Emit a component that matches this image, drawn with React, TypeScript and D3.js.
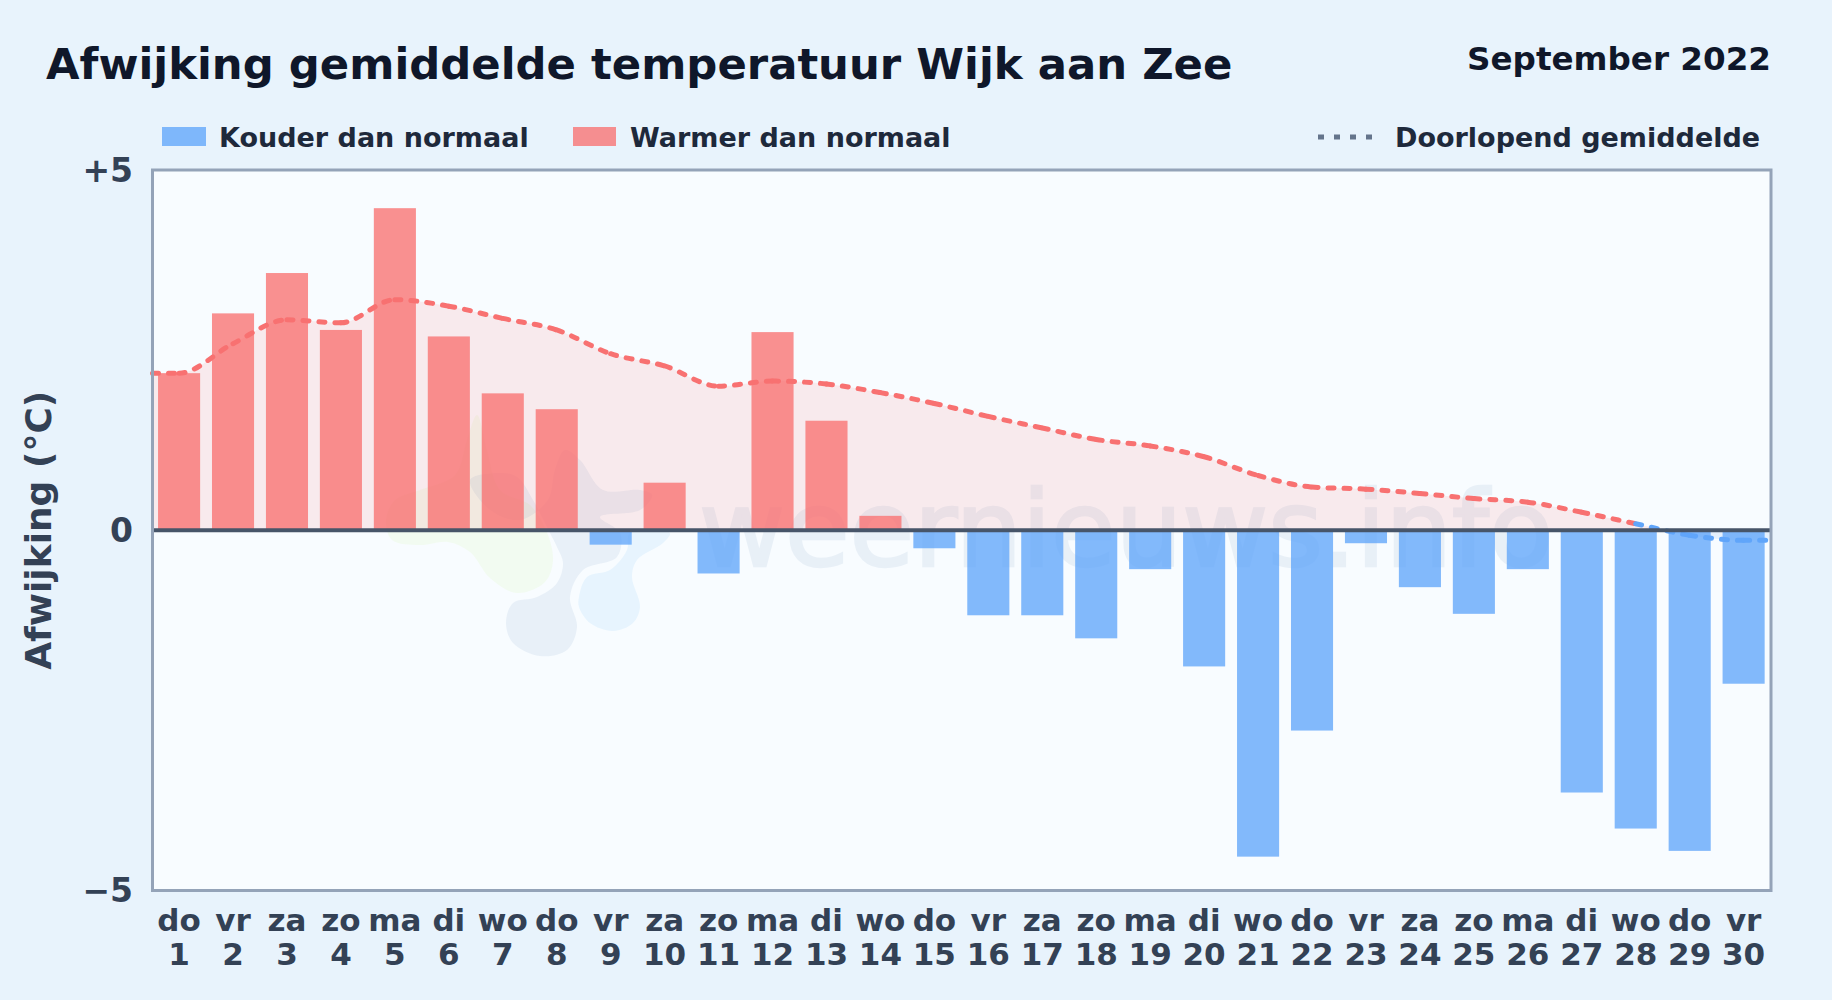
import React from "react";
import * as d3 from "d3";

const dayNames = ["do","vr","za","zo","ma","di","wo","do","vr","za","zo","ma","di","wo","do","vr","za","zo","ma","di","wo","do","vr","za","zo","ma","di","wo","do","vr"];
const dayNumbers = d3.range(1, 31);
const deviations = [2.18,3.01,3.57,2.78,4.47,2.69,1.9,1.68,-0.2,0.66,-0.6,2.75,1.52,0.2,-0.25,-1.18,-1.18,-1.5,-0.54,-1.89,-4.53,-2.78,-0.18,-0.79,-1.16,-0.54,-3.64,-4.14,-4.45,-2.13];
const runningMean = [2.18,2.59,2.92,2.88,3.2,3.11,2.94,2.78,2.45,2.28,2.0,2.07,2.03,1.91,1.76,1.58,1.42,1.26,1.17,1.02,0.76,0.6,0.57,0.51,0.44,0.39,0.25,0.09,-0.07,-0.14];
const yTicks = [{ v: 5, label: "+5" }, { v: 0, label: "0" }, { v: -5, label: "−5" }];

const W = 1832, H = 1000;
const M = { left: 152.5, right: 1771, top: 170, bottom: 890.5 };
const FONT = "'DejaVu Sans', sans-serif";
const RED = "#f87171", BLUE = "#60a5fa";

// Splits a curve into one path per segment, so the dash pattern restarts at every day.
function segmentsOf(pts: [number, number][]) {
  const segs: string[] = [];
  let cx = 0, cy = 0;
  const f = (n: number) => n.toFixed(2);
  const ctx: any = {
    beginPath() {},
    closePath() {},
    moveTo(a: number, b: number) { cx = a; cy = b; },
    lineTo(a: number, b: number) { segs.push(`M${f(cx)},${f(cy)}L${f(a)},${f(b)}`); cx = a; cy = b; },
    bezierCurveTo(a: number, b: number, c: number, d: number, e: number, g: number) {
      segs.push(`M${f(cx)},${f(cy)}C${f(a)},${f(b)} ${f(c)},${f(d)} ${f(e)},${f(g)}`);
      cx = e; cy = g;
    },
  };
  d3.line().curve(d3.curveMonotoneX).context(ctx)(pts);
  return segs;
}

function Watermark() {
  const blob = d3.line().curve(d3.curveCatmullRomClosed.alpha(0.5));
  const green: [number, number][] = [[386,520],[392,540],[420,545],[448,542],[470,552],[490,578],[517,593],[545,582],[553,560],[546,530],[530,505],[500,490],[487,450],[477,415],[467,440],[455,475],[420,490],[395,500]];
  const grey: [number, number][] = [[470,480],[497,473],[517,477],[533,500],[550,533],[557,547],[563,563],[557,583],[537,597],[513,603],[506,623],[513,643],[540,656],[567,650],[577,627],[570,597],[583,570],[617,557],[620,533],[600,517],[640,510],[652,495],[640,490],[603,490],[580,460],[565,450],[555,470],[548,500],[520,520],[490,510]];
  const sky: [number, number][] = [[579,597],[587,577],[610,570],[627,550],[630,533],[670,533],[663,543],[637,560],[632,577],[640,607],[633,623],[613,631],[590,623],[579,607]];
  return (
    <g>
      <path d={blob(green) as string} fill="#bef264" opacity={0.09} />
      <path d={blob(grey) as string} fill="#7a9cc6" opacity={0.12} />
      <path d={blob(sky) as string} fill="#7cc8f8" opacity={0.14} />
      <text x={699} y={566} fontSize={105} fontWeight={400} fill="#7a9cc6" stroke="#7a9cc6" strokeWidth={2.5} opacity={0.12}>weernieuws.info</text>
    </g>
  );
}

export default function App() {
  const x = d3.scaleBand<number>().domain(dayNumbers).range([M.left - 0.4, M.right - 0.4]).paddingInner(0.22).paddingOuter(0.11);
  const y = d3.scaleLinear().domain([-5, 5]).range([M.bottom, M.top]);
  const cx = (d: number) => (x(d) as number) + x.bandwidth() / 2;
  const pts: [number, number][] = [
    [M.left, y(runningMean[0])],
    ...runningMean.map((v, i) => [cx(dayNumbers[i]), y(v)] as [number, number]),
    [M.right, y(runningMean[runningMean.length - 1])],
  ];
  const area = d3.area().curve(d3.curveMonotoneX).y0(y(0))(pts) as string;
  const segs = segmentsOf(pts);
  const segValues = [...runningMean, runningMean[runningMean.length - 1]];
  const z = y(0);
  return (
    <svg width={W} height={H} viewBox={`0 0 ${W} ${H}`} style={{ position: "absolute", left: 0, top: 0, display: "block" }} fontFamily={FONT}>
      <defs>
        <clipPath id="above"><rect x={M.left} y={M.top} width={M.right - M.left} height={z - M.top} /></clipPath>
        <clipPath id="below"><rect x={M.left} y={z} width={M.right - M.left} height={M.bottom - z} /></clipPath>
      </defs>
      <rect width={W} height={H} fill="#e8f3fc" />
      <rect x={M.left} y={M.top} width={M.right - M.left} height={M.bottom - M.top} fill="#f8fcff" />

      <Watermark />

      <g clipPath="url(#above)"><path d={area} fill={RED} fillOpacity={0.13} /></g>
      <g clipPath="url(#below)"><path d={area} fill={BLUE} fillOpacity={0.13} /></g>

      {deviations.map((v, i) => (
        <rect key={i} x={x(dayNumbers[i])} width={x.bandwidth()} y={y(Math.max(v, 0))} height={Math.abs(y(v) - z)} fill={v >= 0 ? RED : BLUE} fillOpacity={0.78} />
      ))}

      {segs.map((d, i) => (
        <path key={i} d={d} fill="none" stroke={segValues[i] < 0 ? BLUE : RED} strokeWidth={5} strokeDasharray="6 10" strokeLinecap="round" />
      ))}

      <line x1={M.left} x2={M.right} y1={z} y2={z} stroke="#475569" strokeWidth={4} />
      <rect x={M.left} y={M.top} width={M.right - M.left} height={M.bottom - M.top} fill="none" stroke="#94a3b8" strokeWidth={3} />

      {yTicks.map((t) => (
        <text key={t.v} x={133} y={y(t.v)} dy="0.36em" textAnchor="end" fontSize={33} fontWeight={700} fill="#334155">{t.label}</text>
      ))}
      {dayNumbers.map((d, i) => (
        <g key={d} textAnchor="middle" fontSize={31} fontWeight={700} fill="#334155">
          <text x={cx(d)} y={931}>{dayNames[i]}</text>
          <text x={cx(d)} y={965}>{d}</text>
        </g>
      ))}

      <text transform={`translate(51,${(M.top + M.bottom) / 2}) rotate(-90)`} textAnchor="middle" fontSize={36} fontWeight={700} fill="#334155">Afwijking (°C)</text>

      <text x={46} y={79} fontSize={43.35} fontWeight={700} fill="#0f172a">Afwijking gemiddelde temperatuur Wijk aan Zee</text>
      <text x={1771} y={70} textAnchor="end" fontSize={32.6} fontWeight={700} fill="#0f172a">September 2022</text>

      <rect x={162} y={127} width={44} height={19} fill={BLUE} fillOpacity={0.78} />
      <text x={219} y={146.5} fontSize={27} fontWeight={700} fill="#1e293b">Kouder dan normaal</text>
      <rect x={573} y={127} width={43} height={19} fill={RED} fillOpacity={0.78} />
      <text x={630} y={146.5} fontSize={27} fontWeight={700} fill="#1e293b">Warmer dan normaal</text>
      <line x1={1318} x2={1373} y1={137} y2={137} stroke="#64748b" strokeWidth={5} strokeDasharray="6 10" />
      <text x={1395} y={146.5} fontSize={27} fontWeight={700} fill="#1e293b">Doorlopend gemiddelde</text>
    </svg>
  );
}
